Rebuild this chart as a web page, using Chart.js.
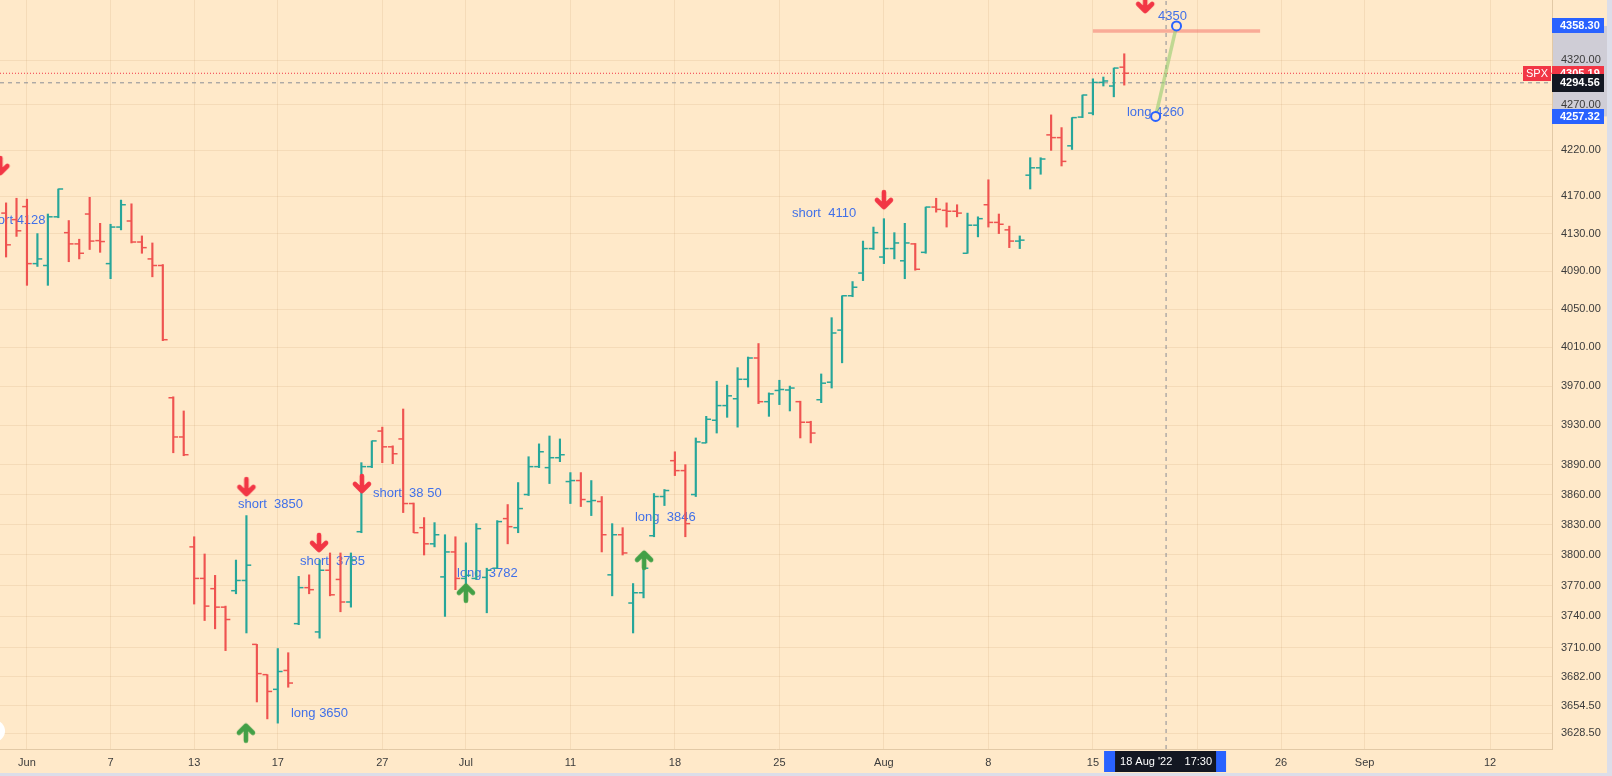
<!DOCTYPE html>
<html>
<head>
<meta charset="utf-8">
<title>SPX 4h bars</title>
<script src="https://cdn.jsdelivr.net/npm/chart.js@4.4.0/dist/chart.umd.min.js"></script>
<style>
  html, body { margin: 0; padding: 0; background: #FFE9C9; }
  #wrap { width: 1612px; height: 776px; position: relative; }
</style>
</head>
<body>
<div id="wrap"><canvas id="spxChart"></canvas></div>
<script>
// bar index: two bars per trading day, 0 = first bar of 1 Jun
const barIndex = [];
for (let i = -2; i <= 105; i++) barIndex.push(i);

const openP = [4152, 4145, 4159, 4098, 4096, 4148, 4131, 4119, 4151, 4122.5, 4098, 4137, 4143.5, 4121, 4103, 4096,
  3958, 3918, 3808, 3777, 3767, 3749, 3765, 3775, 3713, 3684, 3670, 3688, 3733, 3768, 3725, 3785,
  3776, 3754, 3823, 3888, 3924, 3908, 3916, 3851, 3827, 3811, 3778.5, 3803, 3777, 3777, 3778, 3787,
  3836, 3827, 3860, 3888, 3887, 3897, 3873, 3874, 3853, 3853, 3780.5, 3820, 3753, 3763, 3819, 3858,
  3894, 3884, 3860, 3912, 3935, 3950, 3957, 3977, 3999, 3954, 3965.5, 3966, 3954, 3933, 3956, 3974,
  4028, 4064, 4088, 4114, 4105, 4114, 4101, 4119, 4110, 4158.5, 4155, 4154, 4109, 4139, 4161, 4142,
  4134, 4122, 4193, 4201, 4237, 4234, 4225, 4256.6, 4261, 4295, 4291, 4312];
const highP = [4163, 4168, 4167, 4130, 4151, 4178, 4144, 4124, 4169, 4141, 4140, 4166, 4162, 4127.5, 4120, 4097,
  3959, 3944.5, 3818, 3801, 3780, 3750, 3795, 3839, 3713, 3684, 3709, 3705, 3779, 3780.5, 3795, 3802,
  3802, 3802, 3892, 3914, 3928, 3909, 3946.5, 3851.5, 3837, 3832, 3820, 3818, 3812, 3831, 3787, 3834,
  3850, 3872, 3898, 3911, 3919, 3916, 3882, 3882, 3874, 3858, 3831, 3827, 3772, 3790, 3861, 3865,
  3903, 3890, 3917, 3939, 3975, 3971, 3989, 4000, 4014, 3963, 3976, 3970, 3954.5, 3934, 3982.5, 4041,
  4064, 4079, 4122, 4137, 4146, 4131, 4141, 4119.5, 4158.5, 4168, 4163, 4161, 4152, 4148, 4188, 4151,
  4138, 4127.5, 4212, 4212, 4259, 4245, 4256, 4281, 4299, 4301, 4311, 4327];
const lowP = [4105, 4127, 4075, 4095, 4075, 4147, 4100, 4103, 4113, 4110, 4082, 4134, 4120, 4109, 4084, 4017,
  3902, 3899, 3752, 3736, 3728, 3707, 3762, 3724, 3658, 3642, 3638, 3672, 3732, 3762, 3719, 3760,
  3744.5, 3749, 3822, 3887, 3892, 3891, 3842, 3822, 3800, 3808, 3740, 3766, 3756, 3776, 3743.5, 3787,
  3811, 3822, 3859, 3887, 3871, 3893, 3851, 3848, 3839, 3803, 3760, 3800, 3724, 3758, 3818, 3849,
  3879, 3818, 3858, 3912, 3922, 3938, 3928, 3969, 3952, 3939, 3951, 3944.5, 3917, 3912, 3953, 3968,
  3994, 4063, 4080, 4113, 4098, 4103, 4082, 4091, 4109, 4153, 4137, 4148, 4109, 4126.5, 4137, 4130,
  4115, 4114, 4178, 4194, 4220, 4203, 4221, 4256, 4259, 4291, 4279, 4292];
const closeP = [4118, 4133, 4098, 4103, 4148, 4178, 4119, 4109, 4122, 4121.5, 4137, 4161, 4121, 4115, 4096, 4018,
  3918, 3900, 3777, 3750, 3749, 3737, 3775, 3790, 3685, 3668, 3687, 3676, 3768, 3766, 3785, 3761,
  3754, 3795, 3888, 3914, 3908, 3901, 3851, 3822, 3811, 3820, 3803, 3777, 3780, 3826, 3785, 3833,
  3828, 3846, 3888, 3903, 3897, 3900, 3874, 3855, 3854, 3820, 3820, 3802, 3763, 3787, 3858, 3864,
  3884, 3831, 3913, 3936, 3950, 3960, 3977, 3999, 3954, 3962, 3966.5, 3968, 3933, 3922, 3973, 4025,
  4064, 4073, 4114, 4131, 4114, 4120, 4120, 4092, 4158.5, 4156, 4154, 4152, 4139, 4146, 4142, 4140,
  4122, 4123, 4201, 4210.6, 4234, 4208, 4256, 4281, 4295, 4296.6, 4311, 4305.19];

// axis ticks
const dateTickPos = [0, 8, 16, 24, 34, 42, 52, 62, 72, 82, 92, 102, 112, 120, 128, 140];
const dateTickLabel = ['Jun', '7', '13', '17', '27', 'Jul', '11', '18', '25', 'Aug', '8', '15', '22', '26', 'Sep', '12'];
const priceTicks = [4320, 4270, 4220, 4170, 4130, 4090, 4050, 4010, 3970, 3930, 3890, 3860, 3830, 3800,
  3770, 3740, 3710, 3682, 3654.5, 3628.5];

// signals drawn on the chart
const shortX = [-2.55, 21.0, 27.95, 32.05, 82.0, 107.0];
const shortY = [4203, 3867.5, 3811.9, 3870.6, 4166.1, 4383.2];
const longX = [20.95, 42.0, 59.05];
const longY = [3629, 3763, 3795.2];
const noteText = ['short 4128', 'short  3850', 'short  3785', 'long 3650', 'short  38 50', 'long  3782',
  'long  3846', 'short  4110', 'long 4260', '4350'];
const noteX = [-4.1, 20.19, 26.12, 25.26, 33.11, 41.15, 58.18, 73.21, 105.26, 108.23];
const noteY = [4144.6, 3850.6, 3793.2, 3646.8, 3861.6, 3781.5, 3836.7, 4152.1, 4262.2, 4369.5];

// trade projection and levels
const tradeX = [108, 110];
const tradeY = [4257.32, 4358.30];
const targetX = [102, 118];
const targetY = 4352.6;
const lastPrice = 4305.19;
const crossPrice = 4294.56;
const crossX = 109;

const X_MIN = -2.58, X_MAX = 145.93;
const Y_MIN = 3613.7, Y_MAX = 4387.7;

const BG = '#FFE9C9';
const UP = '#26A69A';
const DOWN = '#EF5350';
const gridColor = 'rgba(190, 150, 100, 0.16)';
const axisColor = '#E2C9A6';
const labelColor = '#3b3b3b';
const noteColor = '#4170E8';

const barColor = barIndex.map((x, i) => closeP[i] >= openP[i] ? UP : DOWN);

function makeArrow(color, up) {
  const c = document.createElement('canvas');
  c.width = 22;
  c.height = 22;
  const g = c.getContext('2d');
  g.strokeStyle = color;
  g.lineWidth = 4.6;
  g.lineCap = 'round';
  g.lineJoin = 'round';
  g.beginPath();
  if (up) {
    g.moveTo(11, 19); g.lineTo(11, 4);
    g.moveTo(4, 11); g.lineTo(11, 4); g.lineTo(18, 11);
  } else {
    g.moveTo(11, 3); g.lineTo(11, 18);
    g.moveTo(4, 11); g.lineTo(11, 18); g.lineTo(18, 11);
  }
  g.stroke();
  return c;
}

const paperPlugin = {
  id: 'paper',
  beforeDraw(chart) {
    const { ctx, width, height } = chart;
    const y = chart.scales.y;
    ctx.save();
    ctx.fillStyle = BG;
    ctx.fillRect(0, 0, width, height);
    const yTop = y.getPixelForValue(tradeY[1]);
    const yBot = y.getPixelForValue(tradeY[0]);
    ctx.fillStyle = '#CFCDD6';
    ctx.fillRect(y.left, yTop, 55, yBot - yTop);
    ctx.restore();
  }
};

// the text notes sit under the bars
const notesPlugin = {
  id: 'notes',
  beforeDatasetsDraw(chart) {
    const { ctx } = chart;
    const xs = chart.scales.x, ys = chart.scales.y;
    ctx.save();
    ctx.font = '13px "Liberation Sans", Arial, sans-serif';
    ctx.fillStyle = noteColor;
    ctx.textAlign = 'left';
    ctx.textBaseline = 'middle';
    noteText.forEach((t, i) => {
      ctx.fillText(t, xs.getPixelForValue(noteX[i]), ys.getPixelForValue(noteY[i]));
    });
    ctx.restore();
  }
};

function priceTag(ctx, left, y, h, text, bg, fg) {
  ctx.fillStyle = bg;
  ctx.fillRect(left, Math.round(y - h / 2), 52, h);
  ctx.fillStyle = fg;
  ctx.font = 'bold 11px "Liberation Sans", Arial, sans-serif';
  ctx.textAlign = 'left';
  ctx.textBaseline = 'middle';
  ctx.fillText(text, left + 8, y + 0.5);
}

const tagsPlugin = {
  id: 'tags',
  afterDraw(chart) {
    const { ctx, width, height } = chart;
    const xs = chart.scales.x, ys = chart.scales.y;
    const left = ys.left;
    ctx.save();
    priceTag(ctx, left, ys.getPixelForValue(tradeY[1]), 15, tradeY[1].toFixed(2), '#2962FF', '#fff');
    priceTag(ctx, left, ys.getPixelForValue(tradeY[0]), 15, tradeY[0].toFixed(2), '#2962FF', '#fff');
    const yLast = ys.getPixelForValue(lastPrice);
    priceTag(ctx, left, yLast, 15, lastPrice.toFixed(2), '#F23645', '#fff');
    priceTag(ctx, left, ys.getPixelForValue(crossPrice), 18, crossPrice.toFixed(2), '#131722', '#fff');
    // symbol label
    ctx.fillStyle = '#F23645';
    ctx.fillRect(left - 29, Math.round(yLast - 7.5), 28, 15);
    ctx.fillStyle = '#fff';
    ctx.font = '11px "Liberation Sans", Arial, sans-serif';
    ctx.textAlign = 'center';
    ctx.fillText('SPX', left - 15, yLast + 0.5);
    // crosshair time label
    const cx = xs.getPixelForValue(crossX);
    const top = xs.top + 2;
    ctx.fillStyle = '#2962FF';
    ctx.fillRect(cx - 62, top, 122, 21);
    ctx.fillStyle = '#131722';
    ctx.fillRect(cx - 51, top, 101, 21);
    ctx.fillStyle = '#fff';
    ctx.font = '11px "Liberation Sans", Arial, sans-serif';
    ctx.textAlign = 'center';
    ctx.textBaseline = 'middle';
    ctx.fillText("18 Aug '22    17:30", cx, top + 11);
    // frame strips
    ctx.fillStyle = '#DCDEE9';
    ctx.fillRect(width - 5, 0, 5, height);
    ctx.fillRect(0, height - 3, width, 3);
    // small round button at bottom left
    ctx.beginPath();
    ctx.arc(-6, 731, 11, 0, Math.PI * 2);
    ctx.fillStyle = '#fff';
    ctx.fill();
    ctx.restore();
  }
};

const ctx = document.getElementById('spxChart').getContext('2d');
const spxChart = new Chart(ctx, {
  type: 'bar',
  data: {
    datasets: [
      {
        type: 'line', order: 0,
        data: tradeX.map((x, i) => ({ x, y: tradeY[i] })),
        borderColor: 'rgba(150, 205, 110, 0.6)', borderWidth: 3.5,
        pointRadius: 4.5, pointBorderWidth: 2, pointBorderColor: '#2962FF', pointBackgroundColor: BG
      },
      {
        type: 'line', order: 1, showLine: false,
        data: shortX.map((x, i) => ({ x, y: shortY[i] })),
        pointStyle: makeArrow('#F23645', false), pointRadius: 9
      },
      {
        type: 'line', order: 1, showLine: false,
        data: longX.map((x, i) => ({ x, y: longY[i] })),
        pointStyle: makeArrow('#43A047', true), pointRadius: 9
      },
      {
        type: 'line', order: 2, showLine: false,
        data: barIndex.map((x, i) => ({ x: x - 0.23, y: openP[i] })),
        pointStyle: 'line', pointRadius: 2.4, pointBorderWidth: 1.5,
        pointBorderColor: barColor, pointBackgroundColor: barColor
      },
      {
        type: 'line', order: 2, showLine: false,
        data: barIndex.map((x, i) => ({ x: x + 0.23, y: closeP[i] })),
        pointStyle: 'line', pointRadius: 2.4, pointBorderWidth: 1.5,
        pointBorderColor: barColor, pointBackgroundColor: barColor
      },
      {
        type: 'bar', order: 3,
        data: barIndex.map((x, i) => ({ x, y: [lowP[i], highP[i]] })),
        backgroundColor: barColor, barThickness: 1.5, borderWidth: 0
      },
      {
        type: 'line', order: 4,
        data: targetX.map(x => ({ x, y: targetY })),
        borderColor: 'rgba(244, 120, 110, 0.55)', borderWidth: 3.5, pointRadius: 0
      },
      {
        type: 'line', order: 5,
        data: [{ x: X_MIN, y: lastPrice }, { x: X_MAX, y: lastPrice }],
        borderColor: '#F23645', borderWidth: 1, borderDash: [1, 2], pointRadius: 0
      },
      {
        type: 'line', order: 5,
        data: [{ x: X_MIN, y: crossPrice }, { x: X_MAX, y: crossPrice }],
        borderColor: '#8A8D96', borderWidth: 1, borderDash: [4, 4], pointRadius: 0
      },
      {
        type: 'line', order: 5,
        data: [{ x: crossX, y: Y_MIN }, { x: crossX, y: Y_MAX }],
        borderColor: '#8A8D96', borderWidth: 1, borderDash: [4, 4], pointRadius: 0
      }
    ]
  },
  options: {
    responsive: true,
    maintainAspectRatio: false,
    devicePixelRatio: 1,
    animation: false,
    events: [],
    layout: { padding: 0, autoPadding: false },
    plugins: { legend: { display: false }, tooltip: { enabled: false } },
    scales: {
      x: {
        type: 'linear', position: 'bottom', min: X_MIN, max: X_MAX, bounds: 'data', offset: false,
        afterBuildTicks: s => { s.ticks = dateTickPos.map(v => ({ value: v })); },
        afterFit: s => { s.height = 27; s.paddingLeft = 0; s.paddingRight = 0; },
        ticks: {
          autoSkip: false, maxRotation: 0, padding: 7, color: labelColor,
          font: { family: '"Liberation Sans", Arial, sans-serif', size: 11 },
          callback: (v, i) => dateTickLabel[i]
        },
        grid: { color: gridColor, drawTicks: false, offset: false },
        border: { color: axisColor }
      },
      y: {
        type: 'logarithmic', position: 'right', min: Y_MIN, max: Y_MAX, bounds: 'data',
        afterBuildTicks: s => { s.ticks = priceTicks.map(v => ({ value: v })); },
        afterFit: s => { s.width = 60; s.paddingTop = 0; s.paddingBottom = 0; },
        ticks: {
          autoSkip: false, padding: 9, color: labelColor,
          font: { family: '"Liberation Sans", Arial, sans-serif', size: 11 },
          callback: v => Number(v).toFixed(2)
        },
        grid: { color: gridColor, drawTicks: false },
        border: { color: axisColor }
      }
    }
  },
  plugins: [paperPlugin, notesPlugin, tagsPlugin]
});
</script>
</body>
</html>
